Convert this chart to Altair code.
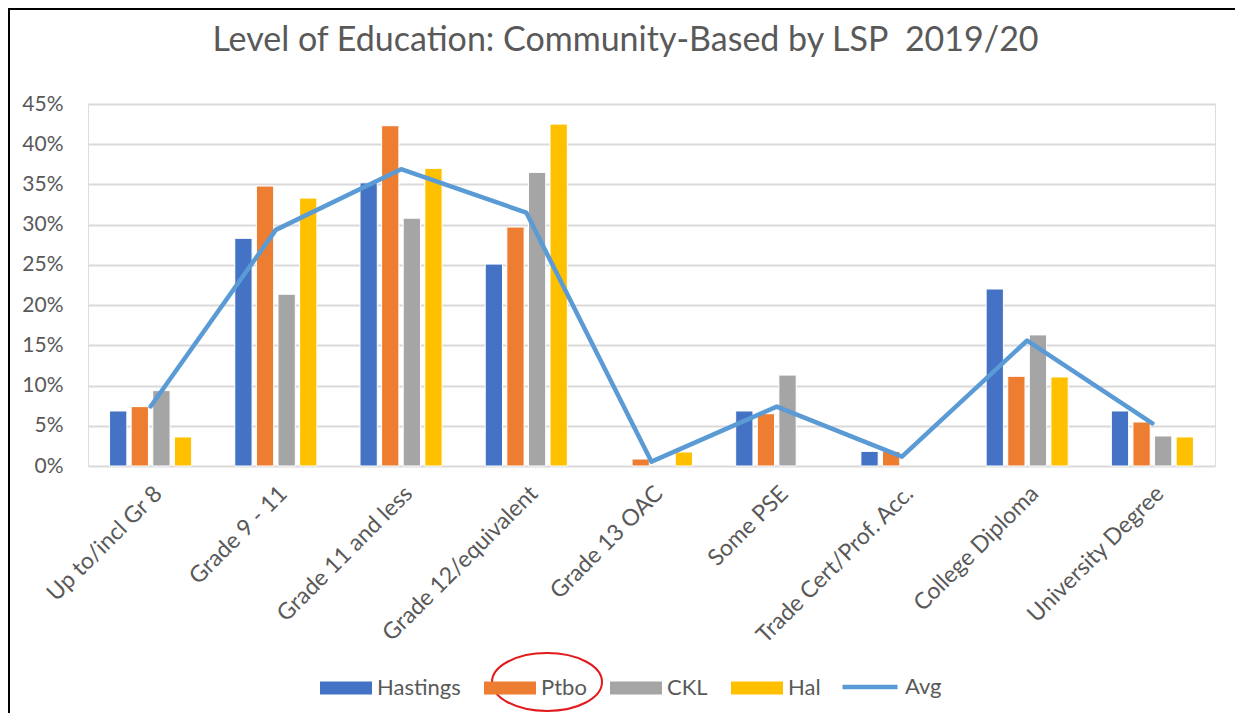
import altair as alt
import pandas as pd

categories = ["Up to/incl Gr 8", "Grade 9 - 11", "Grade 11 and less", "Grade 12/equivalent",
              "Grade 13 OAC", "Some PSE", "Trade Cert/Prof. Acc.", "College Diploma", "University Degree"]
series = ["Hastings", "Ptbo", "CKL", "Hal"]
colors = ["#4472C4", "#ED7D31", "#A5A5A5", "#FFC000"]
hastings = [6.84, 28.3, 35.2, 25.1, None, 6.84, 1.82, 22.0, 6.84]
ptbo = [7.38, 34.8, 42.3, 29.7, 0.87, 6.5, 1.82, 11.15, 5.47]
ckl = [9.37, 21.35, 30.8, 36.5, None, 11.3, None, 16.3, 3.73]
hal = [3.61, 33.3, 37.0, 42.5, 1.74, None, None, 11.07, 3.61]
avg = [7.4, 29.35, 36.9, 31.5, 0.54, 7.38, 1.16, 15.6, 5.3]
y_ticks = [0, 0.05, 0.10, 0.15, 0.20, 0.25, 0.30, 0.35, 0.40, 0.45]
title_text = "Level of Education: Community-Based by LSP\u00a0 2019/20"

rows = []
for name, vals in zip(series, [hastings, ptbo, ckl, hal]):
    for c, v in zip(categories, vals):
        if v is not None:
            rows.append({"cat": c, "series": name, "value": v / 100})
bars_df = pd.DataFrame(rows)
line_df = pd.DataFrame({"cat": categories, "value": [v / 100 for v in avg], "s": "Avg"})

FONT = "Lato"
TXT = "#595959"
W, H = 1127, 362

x_enc = alt.X("cat:N", sort=categories, title=None,
              scale=alt.Scale(paddingInner=0.31, paddingOuter=0.155),
              axis=alt.Axis(labelAngle=-45, labelFontSize=23, labelColor=TXT, labelFont=FONT,
                            domain=False, ticks=False, labelPadding=16, labelLimit=400))
y_enc = alt.Y("value:Q", title=None,
              scale=alt.Scale(domain=[0, 0.45], nice=False),
              axis=alt.Axis(values=y_ticks, format=".0%", domain=False, ticks=False,
                            labelFontSize=21, labelColor=TXT, labelFont=FONT, labelPadding=25,
                            gridColor="#D9D9D9", gridWidth=2))

rect_path = "M-1,-0.25H1V0.25H-1Z"

bars = alt.Chart(bars_df).mark_bar(stroke="white", strokeWidth=1).encode(
    x=x_enc,
    xOffset=alt.XOffset("series:N", sort=series,
                        scale=alt.Scale(paddingInner=0.2, paddingOuter=0.1)),
    y=y_enc,
    fill=alt.Fill("series:N", sort=series,
                  scale=alt.Scale(domain=series, range=colors),
                  legend=alt.Legend(orient="none", legendX=232, legendY=558, direction="horizontal",
                                    title=None, symbolType=rect_path, symbolSize=2704,
                                    symbolStrokeWidth=0, labelFontSize=22, labelFont=FONT,
                                    labelColor=TXT, labelOffset=5, columnPadding=23)),
)

line = alt.Chart(line_df).mark_line(strokeWidth=4.5, strokeCap="round", strokeJoin="round").encode(
    x=alt.X("cat:N", sort=categories),
    y=alt.Y("value:Q"),
    stroke=alt.Stroke("s:N", scale=alt.Scale(domain=["Avg"], range=["#5B9BD5"]),
                      legend=alt.Legend(orient="none", legendX=752, legendY=553, title=None,
                                        symbolType="stroke", symbolSize=3025, symbolStrokeWidth=4.5,
                                        labelFontSize=22, labelFont=FONT, labelColor=TXT,
                                        labelOffset=5)),
)

ellipse_path = "M-1,0A1,0.527 0 1,1 1,0A1,0.527 0 1,1 -1,0Z"
one = pd.DataFrame({"k": [0]})
ellipse = alt.Chart(one).mark_point(shape=ellipse_path, size=12100, filled=False,
                                    stroke="#E31A1C", strokeWidth=2, opacity=1).encode(
    x=alt.value(459), y=alt.value(578))

border_left = alt.Chart(one).mark_rule(color="black", strokeWidth=2).encode(
    x=alt.value(-79), y=alt.value(-96), y2=alt.value(H + 247))
border_top = alt.Chart(one).mark_rule(color="black", strokeWidth=2).encode(
    y=alt.value(-95), x=alt.value(-80), x2=alt.value(W + 20))

chart = alt.layer(bars, line, ellipse, border_left, border_top).properties(
    width=W, height=H,
    padding={"left": 80, "top": 96, "right": 20, "bottom": 247},
    autosize=alt.AutoSizeParams(type="none"),
    title=alt.TitleParams(title_text, fontSize=34, font=FONT, color=TXT, fontWeight="normal",
                          anchor="middle", dx=-26, offset=0, dy=78, frame="group",
                          baseline="alphabetic"),
).resolve_scale(fill="independent", stroke="independent").configure_view(stroke=None).configure(
    font=FONT
)

chart.save("out.html", embed_options={"renderer": "svg", "actions": False})
